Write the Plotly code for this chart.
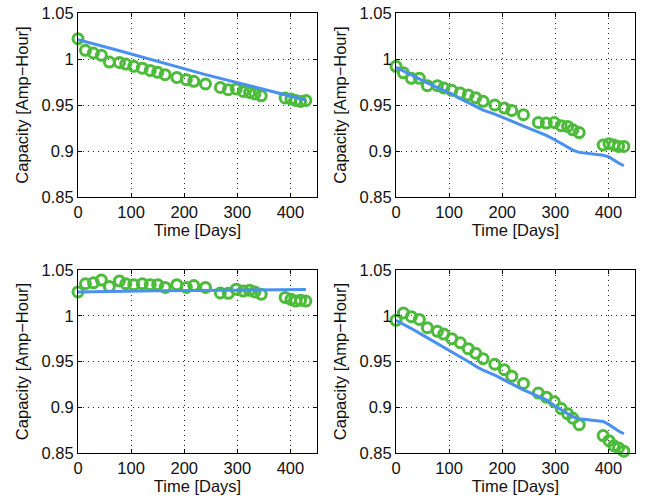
import plotly.graph_objects as go
from plotly.subplots import make_subplots

days = [0, 14, 29, 44, 59, 78, 90, 105, 121, 136, 150, 164, 186, 204, 218, 240,
        268, 283, 298, 311, 323, 333, 345, 390, 401, 410, 419, 429]

meas_1 = [1.022, 1.0094, 1.0065, 1.004, 0.9967, 0.9963, 0.9945, 0.992, 0.990, 0.9876,
          0.9855, 0.983, 0.980, 0.9775, 0.9757, 0.9728, 0.969, 0.9666, 0.9674, 0.9648,
          0.9637, 0.962, 0.960, 0.9576, 0.9565, 0.955, 0.9539, 0.955]
model_1 = [1.021, 1.019, 1.017, 1.0145, 1.012, 1.009, 1.007, 1.0045, 1.002, 0.9995,
           0.997, 0.995, 0.9915, 0.9885, 0.9865, 0.983, 0.979, 0.9765, 0.9745, 0.9725,
           0.971, 0.9695, 0.968, 0.961, 0.9595, 0.958, 0.957, 0.9555]

meas_2 = [0.992, 0.985, 0.979, 0.979, 0.971, 0.971, 0.9685, 0.966, 0.963, 0.961,
          0.958, 0.954, 0.950, 0.9467, 0.944, 0.9395, 0.931, 0.9304, 0.931, 0.9275,
          0.9267, 0.923, 0.920, 0.9065, 0.908, 0.9065, 0.905, 0.905]
model_2 = [0.991, 0.987, 0.982, 0.978, 0.974, 0.969, 0.966, 0.962, 0.957, 0.9525,
           0.948, 0.9445, 0.940, 0.936, 0.9325, 0.927, 0.921, 0.917, 0.9125, 0.908,
           0.904, 0.901, 0.8985, 0.8955, 0.8935, 0.890, 0.887, 0.884]

meas_3 = [1.026, 1.035, 1.036, 1.039, 1.032, 1.038, 1.035, 1.034, 1.035, 1.034,
          1.034, 1.031, 1.034, 1.031, 1.033, 1.031, 1.025, 1.0245, 1.029, 1.027,
          1.028, 1.026, 1.0235, 1.020, 1.018, 1.016, 1.017, 1.016]
model_3 = [1.026, 1.0262, 1.0264, 1.0266, 1.0267, 1.0268, 1.0269, 1.027, 1.0271, 1.0272,
           1.0273, 1.0274, 1.0275, 1.0276, 1.0277, 1.0278, 1.0279, 1.028, 1.028, 1.0281,
           1.0282, 1.0282, 1.0283, 1.0284, 1.0285, 1.0286, 1.0286, 1.0287]

meas_4 = [0.995, 1.003, 0.999, 0.996, 0.987, 0.983, 0.980, 0.975, 0.9705, 0.964,
          0.959, 0.953, 0.947, 0.941, 0.934, 0.926, 0.9155, 0.911, 0.906, 0.8985,
          0.893, 0.888, 0.881, 0.869, 0.8635, 0.858, 0.8555, 0.852]
model_4 = [0.995, 0.991, 0.986, 0.981, 0.976, 0.970, 0.966, 0.961, 0.955, 0.950,
           0.945, 0.9405, 0.935, 0.930, 0.9255, 0.919, 0.912, 0.908, 0.902, 0.8975,
           0.893, 0.8895, 0.8875, 0.8845, 0.881, 0.877, 0.874, 0.871]

x_ticks = [0, 100, 200, 300, 400]
y_ticks = [0.85, 0.9, 0.95, 1.0, 1.05]
y_tick_labels = ["0.85", "0.9", "0.95", "1", "1.05"]
x_title = "Time [Days]"
y_title = "Capacity [Amp\u2212Hour]"

GREEN = "#4CBB3A"
BLUE = "#4A90EE"

fig = make_subplots(rows=2, cols=2)
panels = [(meas_1, model_1, 1, 1), (meas_2, model_2, 1, 2),
          (meas_3, model_3, 2, 1), (meas_4, model_4, 2, 2)]
for meas, model, r, c in panels:
    fig.add_trace(go.Scatter(x=days, y=meas, mode="markers",
                             marker=dict(symbol="circle-open", size=10, color=GREEN,
                                         line=dict(width=3, color=GREEN)),
                             showlegend=False, cliponaxis=False), row=r, col=c)
    fig.add_trace(go.Scatter(x=days, y=model, mode="lines",
                             line=dict(color=BLUE, width=3),
                             showlegend=False), row=r, col=c)

xdoms = {1: [78 / 650, 317 / 650], 2: [396 / 650, 635 / 650]}
ydoms = {1: [1 - 197 / 501, 1 - 13 / 501], 2: [1 - 453 / 501, 1 - 270 / 501]}

font = dict(family="Liberation Sans, Arial, sans-serif", size=16.5, color="#111111")
for r in (1, 2):
    for c in (1, 2):
        fig.update_xaxes(row=r, col=c, domain=xdoms[c], range=[0, 450],
                         tickvals=x_ticks, ticks="inside", ticklen=4, tickcolor="black",
                         showline=True, linecolor="black", linewidth=1, mirror="ticks",
                         showgrid=True, gridcolor="#222222", griddash="1px,4px", gridwidth=1,
                         zeroline=False, tickfont=font, automargin=False,
                         title=dict(text=x_title, font=font, standoff=1))
        fig.update_yaxes(row=r, col=c, domain=ydoms[r], range=[0.85, 1.05],
                         tickvals=y_ticks, ticktext=y_tick_labels,
                         ticks="inside", ticklen=4, tickcolor="black",
                         showline=True, linecolor="black", linewidth=1, mirror="ticks",
                         showgrid=True, gridcolor="#222222", griddash="1px,4px", gridwidth=1,
                         zeroline=False, tickfont=font, automargin=False,
                         title=dict(text=y_title, font=font, standoff=8))

fig.update_layout(width=650, height=501, margin=dict(l=0, r=0, t=0, b=0),
                  paper_bgcolor="white", plot_bgcolor="white", font=font)
fig.write_html("out.html", config={"displayModeBar": False},
               post_script="document.body.style.margin='0';document.body.style.overflow='hidden';")
